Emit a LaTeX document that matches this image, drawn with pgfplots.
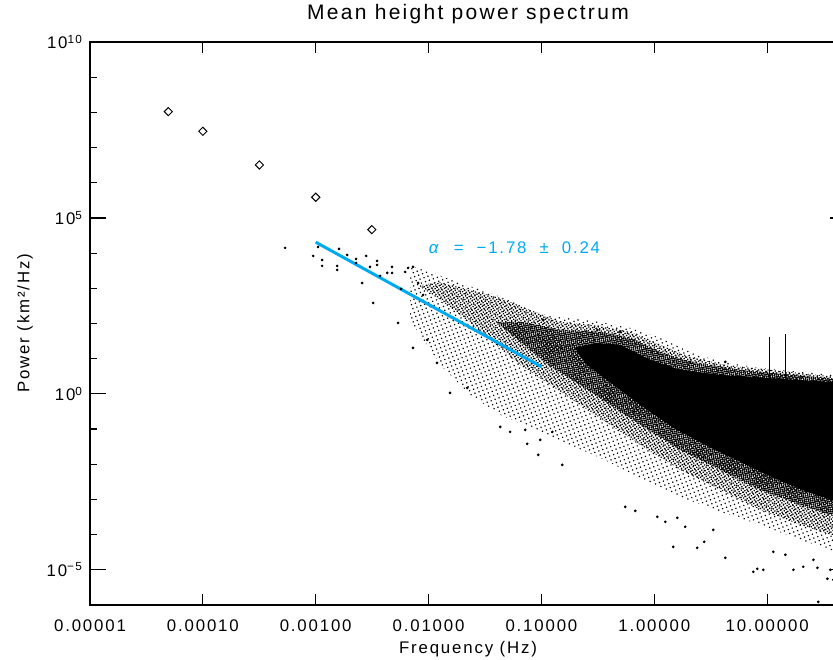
\documentclass[border=0pt]{standalone}
\usepackage{fontspec}
\setmainfont{Liberation Sans}[LetterSpace=11]
\usepackage{pgfplots}
\pgfplotsset{compat=1.18}
\usetikzlibrary{patterns.meta}
\definecolor{fitblue}{RGB}{0,170,240}
\begin{document}
\begin{tikzpicture}
\begin{axis}[name=ax,
  xmode=log, ymode=log,
  scale only axis, width=378pt, height=281.5pt,
  xmin=1e-5, xmax=50, ymin=1e-6, ymax=1e10,
  xtick={1e-5,1e-4,1e-3,1e-2,1e-1,1,10},
  xticklabels={0.00001,0.00010,0.00100,0.01000,0.10000,1.00000,10.00000},
  ytick={1e-5,1,1e5,1e10},
  yticklabels={10\textsuperscript{−5},10\textsuperscript{0},10\textsuperscript{5},10\textsuperscript{10}},
  minor ytick={1e-4,1e-3,1e-2,1e-1,1e1,1e2,1e3,1e4,1e6,1e7,1e8,1e9},
  xminorticks=false,
  axis line style={line width=0.6pt},
  every tick/.style={black, line width=0.6pt},
  xtick style={/pgfplots/major tick length=5.5pt},
  ytick style={/pgfplots/major tick length=8pt},
  minor tick length=3.5pt,
  tick label style={font=\fontsize{8.4}{10}\selectfont},
  xticklabel style={anchor=base, yshift=-13.5pt},
  label style={font=\fontsize{8.4}{10}\selectfont},
  title={Mean height power spectrum},
  title style={at={(axis description cs:0.5,1.0178)}, anchor=base, font=\fontsize{10.5}{12}\selectfont},
  xlabel={Frequency (Hz)},
  xlabel style={at={(axis description cs:0.5,-0.087)}, anchor=base},
  ylabel={Power (km²/Hz)},
  ylabel style={at={(axis description cs:-0.086,0.5)}, anchor=center},
]
% sparse fringe of the periodogram cloud
\addplot[draw=none, pattern={Dots[distance=2.1pt, radius=0.42pt, angle=20]}, pattern color=black] coordinates {
(6.87e-3,4.33e3) (1.03e-2,2.92e3) (1.91e-2,1.42e3) (3.52e-2,740) (6.49e-2,337) (0.108,175)
(0.180,144) (0.332,111) (0.612,75.0) (1.13,39.0) (2.08,15.6) (3.85,8.11) (8.71,5.48)
(19.7,4.22) (50,3.24)
(50,2.67e-5) (19.7,7.11e-5) (8.71,1.90e-4) (3.85,4.45e-4) (1.70,1.19e-3) (0.752,4.11e-3)
(0.332,1.52e-2) (0.180,3.56e-2) (9.75e-2,8.32e-2) (4.32e-2,0.253) (2.34e-2,0.937)
(1.27e-2,6.67) (6.87e-3,126)
} -- cycle;
% medium density
\addplot[draw=none, pattern={Dots[distance=1.3pt, radius=0.46pt, angle=35]}, pattern color=black] coordinates {
(8e-3,1.2e3) (1.25e-2,1.5e3) (2.34e-2,902) (4.32e-2,533) (7.96e-2,243) (0.147,111) (0.332,85.5)
(0.612,57.7) (1.13,24.7) (2.08,11.2) (4.72,6.24) (13.1,4.50) (50,2.85)
(50,7.11e-5) (19.7,1.90e-4) (8.71,5.07e-4) (3.85,1.87e-3) (1.70,6.93e-3) (0.752,3.56e-2)
(0.407,0.132) (0.221,0.486) (0.120,1.80) (6.49e-2,6.67) (3.52e-2,34.2) (1.91e-2,175)
(1.15e-2,600)
} -- cycle;
% dense
\addplot[draw=none, pattern={Dots[distance=1.0pt, radius=0.52pt, angle=10]}, pattern color=black] coordinates {
(0.04,110) (0.07,110) (0.147,65.8) (0.332,57.7) (0.612,39.0) (1.13,15.6) (2.08,8.11) (5.78,4.81) (50,2.50)
(50,2.63e-4) (19.7,7.03e-4) (8.71,1.87e-3) (3.85,6.93e-3) (1.70,2.56e-2) (0.752,0.132)
(0.407,0.486) (0.221,1.80) (0.120,6) (0.07,25)
} -- cycle;
% solid core
\addplot[draw=none, fill=black] coordinates {
(0.2,20) (0.3,28) (0.500,24.7) (0.923,9.25) (1.70,4.81) (3.85,3.47) (13.1,2.67) (50,2.05)
(50,7.03e-4) (22.7,1.64e-3) (11.35,4.11e-3) (5.78,1.17e-2) (2.95,3.33e-2) (1.472,0.108)
(0.752,0.486) (0.470,1.48) (0.332,3.47) (0.25,7)
} -- cycle;
% spectral lines
\addplot[black, line width=0.7pt] coordinates {(10.5,2.5) (10.5,42)};
\addplot[black, line width=0.7pt] coordinates {(14.5,2.5) (14.5,50)};
% individual points
\addplot[only marks, mark=*, mark size=0.45pt, black] coordinates {
(5.36e-4,1.41e4) (9.5e-4,8.32e3) (1.05e-3,1.50e4) (1.14e-3,6.41e3) (1.14e-3,4.33e3)
(1.55e-3,4.33e3) (1.55e-3,3.33e3) (1.61e-3,1.32e4) (1.90e-3,8.89e3) (2.28e-3,6.84e3)
(2.28e-3,5.27e3) (2.58e-3,1.42e3) (2.80e-3,8.32e3) (3.03e-3,4.06e3) (3.23e-3,385)
(3.50e-3,6.00e3) (3.50e-3,4.62e3) (3.72e-3,2.25e3) (4.30e-3,2.74e3) (4.75e-3,4.06e3)
(4.75e-3,2.74e3) (5.37e-3,104) (5.71e-3,962) (6.21e-3,2.92e3) (6.59e-3,3.80e3)
(7.29e-3,4.06e3) (7.29e-3,20.3) (8.09e-3,1.42e3) (8.95e-3,649) (9.73e-3,34.2)
(1.19e-2,7.60) (1.55e-2,1.07) (2.20e-2,1.48) (4.32e-2,0.115) (9.75e-2,4.93e-2)
(9.38e-2,1.85e-2) (5.28e-2,8.32e-2) (7.18e-2,9.48e-2) (7.48e-2,3.80e-2) (0.153,9.62e-3)
(0.125,8.32e-2) (0.553,6.17e-4) (0.679,4.74e-4) (1.064,3.21e-4) (1.472,4.50e-5)
(1.60,3.00e-4) (2.40,4.22e-5) (2.77,6.24e-5) (4.26,2.19e-5) (7.55,8.77e-6)
(8.18,1.07e-5) (9.25,1.0e-5) (11.35,3.24e-5) (14.5,2.67e-5) (17.1,1.0e-5)
(20.9,1.22e-5) (25.7,1.92e-5) (27.9,1.14e-5) (28.4,1.23e-6) (34.2,5.55e-6)
(36.3,1.0e-5) (38.6,5.20e-6) (1.88,1.67e-4) (1.253,2.31e-4) (3.33,1.37e-4)
(0.104,126) (0.5,57.7) (0.313,65.8) (4.26,8.11) (2.08,8.11)
};
% binned low-frequency power
\addplot[only marks, mark=square, mark size=1.45pt, mark options={rotate=45, line width=0.5pt}, black] coordinates {
(4.94e-5,1.05e8) (1e-4,2.90e7) (3.17e-4,3.2e6) (1e-3,3.87e5) (3.14e-3,4.65e4)
};
% power-law fit
\addplot[fitblue, line width=1.5pt] coordinates {(1e-3,2.05e4) (0.1,5.9)};
\node[anchor=base west, text=fitblue, font=\fontsize{8.4}{10}\selectfont, inner sep=0pt] at (axis cs:0.01,9.5e3) {\textit{α}\ \ =\ \ −1.78\ \ ±\ \ 0.24};
\end{axis}
\pgfresetboundingbox
\path ([shift={(-45pt,-27.5pt)}]ax.south west) rectangle ([shift={(371.5pt,21pt)}]ax.north west);
\end{tikzpicture}
\end{document}
